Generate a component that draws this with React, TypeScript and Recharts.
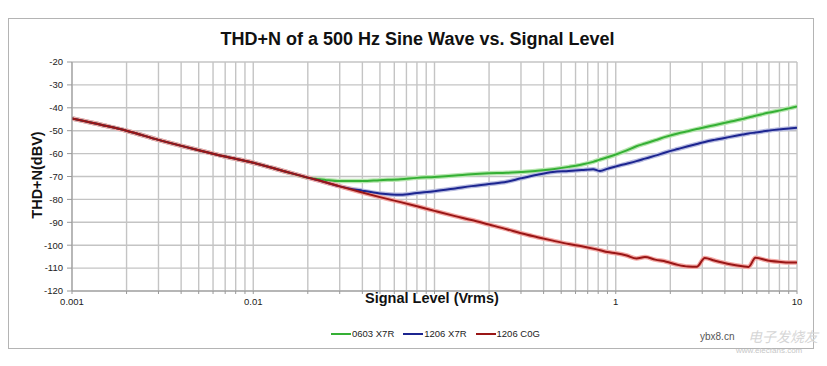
import React from 'react';
import { LineChart, Line, XAxis, YAxis, CartesianGrid } from 'recharts';

// Signal level (Vrms) sample points
const signal = [
    0.001, 0.0015, 0.002, 0.003, 0.005, 0.007, 0.01, 0.015, 0.02, 0.025, 0.03, 0.04,
    0.05, 0.065, 0.08, 0.1, 0.13, 0.16, 0.2, 0.25, 0.3, 0.37, 0.45, 0.55, 0.65, 0.75,
    0.82, 0.9, 1.0, 1.15, 1.3, 1.45, 1.65, 1.9, 2.2, 2.5, 2.8, 3.1, 3.5, 4.2, 5.0, 5.4,
    5.9, 6.9, 8.4, 10,
];

// THD+N (dBV)
const c0g1206 = [
    -44.7, -47.7, -50, -54, -58.5, -61.3, -64, -67.8, -70.5, -72.5, -74.3, -77,
    -79, -81.2, -83, -85, -87.3, -89, -91, -93, -94.8, -96.5, -98, -99.5, -100.5, -101.5,
    -102.2, -103, -103.5, -104.5, -105.8, -105.2, -106.3, -107.2, -108.6, -109.3, -109.4, -105.6, -106.7, -108.2, -109.2, -109.5,
    -105.5, -106.7, -107.4, -107.6,
];

const x7r0603 = [
    -44.7, -47.7, -50, -54, -58.5, -61.3, -64, -67.8, -70.5, -71.5, -72, -72,
    -71.6, -71.2, -70.6, -70.2, -69.6, -69, -68.6, -68.4, -68, -67.5, -66.8, -65.8, -64.8, -63.6,
    -62.6, -61.6, -60.4, -58.6, -56.8, -55.6, -54.2, -52.6, -51.2, -50.2, -49.3, -48.5, -47.6, -46.2, -44.9, -44.2,
    -43.5, -42.2, -40.8, -39.4,
];

const x7r1206 = [
    -44.7, -47.7, -50, -54, -58.5, -61.3, -64, -67.8, -70.5, -72.5, -74.3, -76.2,
    -77.4, -78, -77.2, -76.4, -75.2, -74.2, -73.3, -72.3, -70.8, -69.2, -68, -67.6, -67.2, -66.8,
    -67.6, -66.6, -65.6, -64.4, -63.3, -62.2, -60.9, -59.4, -58, -56.8, -55.8, -54.9, -54, -52.8, -51.7, -51.2,
    -50.8, -50, -49.3, -48.7,
];

const xTicks = [
    0.001, 0.002, 0.003, 0.004, 0.005, 0.006, 0.007, 0.008, 0.009,
    0.01, 0.02, 0.03, 0.04, 0.05, 0.06, 0.07, 0.08, 0.09,
    0.1, 0.2, 0.3, 0.4, 0.5, 0.6, 0.7, 0.8, 0.9,
    1, 2, 3, 4, 5, 6, 7, 8, 9, 10,
];
const xLabels: Record<string, string> = { '0.001': '0.001', '0.01': '0.01', '1': '1', '10': '10' };
const yTicks = [-120, -110, -100, -90, -80, -70, -60, -50, -40, -30, -20];

const series = [
    { key: 'g', name: '0603 X7R', color: '#35b035', halo: '#b8e6b0' },
    { key: 'b', name: '1206 X7R', color: '#1c2590', halo: '#b8bce0' },
    { key: 'r', name: '1206 C0G', color: '#9a1616', halo: '#f3a8a4' },
];

const data = signal.map((s, i) => ({ s, g: x7r0603[i], b: x7r1206[i], r: c0g1206[i] }));

const font = 'Arial, "Liberation Sans", sans-serif';

export default function App() {
    return (
        <div style={{ position: 'absolute', left: 0, top: 0, width: 827, height: 366, background: '#fff', fontFamily: font }}>
            <div style={{ position: 'absolute', left: 8, top: 18, width: 804, height: 329, border: '1.5px solid #b4b4b4' }} />
            <div style={{ position: 'absolute', left: 0, width: 835, top: 29, textAlign: 'center', fontSize: 18, fontWeight: 'bold', color: '#111' }}>
                THD+N of a 500 Hz Sine Wave vs. Signal Level
            </div>
            <LineChart width={827} height={366} data={data} margin={{ top: 62, right: 30, bottom: 55, left: 0 }}>
                <CartesianGrid stroke="#c4c4c4" strokeWidth={1.4} />
                <XAxis
                    dataKey="s"
                    type="number"
                    scale="log"
                    domain={[0.001, 10]}
                    ticks={xTicks}
                    allowDataOverflow
                    height={20}
                    tickSize={3}
                    tickMargin={4}
                    interval={0}
                    tickFormatter={(v: number) => xLabels[String(v)] ?? ''}
                    tick={{ fontSize: 9.5, fill: '#222', fontFamily: font }}
                    stroke="#999"
                />
                <YAxis
                    type="number"
                    domain={[-120, -20]}
                    ticks={yTicks}
                    width={72}
                    tickSize={5}
                    tickMargin={4}
                    interval={0}
                    tick={{ fontSize: 9.5, fill: '#222', fontFamily: font }}
                    stroke="#999"
                />
                {series.map((s) => (
                    <Line key={s.key + 'h'} type="monotone" dataKey={s.key} stroke={s.halo} strokeWidth={4.5} dot={false} activeDot={false} isAnimationActive={false} />
                ))}
                {series.map((s) => (
                    <Line key={s.key} type="monotone" dataKey={s.key} name={s.name} stroke={s.color} strokeWidth={2} dot={false} isAnimationActive={false} />
                ))}
            </LineChart>
            <div style={{ position: 'absolute', left: 365, top: 290, fontSize: 14.5, fontWeight: 'bold', color: '#111' }}>Signal Level (Vrms)</div>
            <div style={{ position: 'absolute', left: 10, top: 175, width: 54, height: 0 }}>
                <div style={{ position: 'absolute', left: 27, top: 0, transform: 'translate(-50%, -50%) rotate(-90deg)', whiteSpace: 'nowrap', fontSize: 14.5, fontWeight: 'bold', color: '#111' }}>
                    THD+N(dBV)
                </div>
            </div>
            <div style={{ position: 'absolute', left: 331, top: 328, display: 'flex', alignItems: 'center', fontSize: 9.5, color: '#222' }}>
                {series.map((s) => (
                    <div key={s.key} style={{ display: 'flex', alignItems: 'center', marginRight: 9 }}>
                        <div style={{ width: 20, height: 2, background: s.color, marginRight: 1 }} />
                        <span>{s.name}</span>
                    </div>
                ))}
            </div>
            <div style={{ position: 'absolute', left: 700, top: 331, fontSize: 10, color: '#555' }}>ybx8.cn</div>
            <div style={{ position: 'absolute', left: 748, top: 326, fontSize: 14, color: '#d6d6d6', fontFamily: '"Noto Sans CJK SC", sans-serif', fontStyle: 'italic' }}>电子发烧友</div>
            <div style={{ position: 'absolute', left: 736, top: 346, fontSize: 8, color: '#c8c8c8' }}>www.elecfans.com</div>
        </div>
    );
}
